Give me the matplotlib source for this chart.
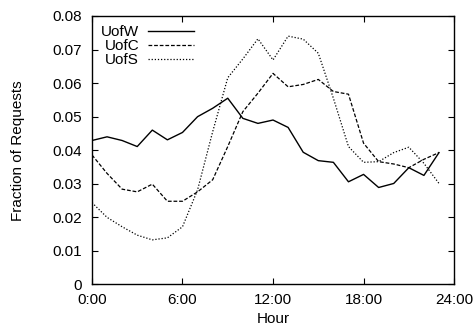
import numpy as np
import matplotlib
matplotlib.use('Agg')
import matplotlib.pyplot as plt

plt.rcParams['font.family'] = ['Liberation Sans', 'DejaVu Sans']
plt.rcParams['font.size'] = 11

# hourly request fractions
hours = list(range(24))
uofw = [0.0429, 0.0440, 0.0429, 0.0411, 0.0460, 0.0431, 0.0453, 0.0500,
        0.0525, 0.0555, 0.0495, 0.0480, 0.0490, 0.0468, 0.0394, 0.0369,
        0.0364, 0.0306, 0.0328, 0.0289, 0.0301, 0.0348, 0.0325, 0.0393]
uofc = [0.0386, 0.0331, 0.0284, 0.0276, 0.0299, 0.0248, 0.0248, 0.0276,
        0.0312, 0.0411, 0.0515, 0.0570, 0.0629, 0.0589, 0.0596, 0.0611,
        0.0575, 0.0567, 0.0421, 0.0366, 0.0359, 0.0348, 0.0373, 0.0393]
uofs = [0.0244, 0.0200, 0.0172, 0.0147, 0.0133, 0.0139, 0.0172, 0.0282,
        0.0455, 0.0616, 0.0672, 0.0732, 0.0669, 0.0740, 0.0731, 0.0689,
        0.0555, 0.0411, 0.0364, 0.0366, 0.0393, 0.0409, 0.0361, 0.0301]

xticks = [0, 6, 12, 18, 24]
xticklabels = ['0:00', '6:00', '12:00', '18:00', '24:00']
yticks = [0, 0.01, 0.02, 0.03, 0.04, 0.05, 0.06, 0.07, 0.08]
yticklabels = ['0', '0.01', '0.02', '0.03', '0.04', '0.05', '0.06', '0.07', '0.08']

fig = plt.figure(figsize=(4.74, 3.31), dpi=100)
ax = fig.add_axes([0.194, 0.1405, 0.764, 0.8112])

ax.plot(hours, uofw, color='black', lw=1.0, linestyle='-', label='UofW')
ax.plot(hours, uofc, color='black', lw=0.9, linestyle=(0, (3, 1.5)), label='UofC')
ax.plot(hours, uofs, color='black', lw=0.9, linestyle=(0, (1, 1.5)), label='UofS')

ax.set_xlim(0, 24)
ax.set_ylim(0, 0.08)
ax.set_xticks(xticks)
ax.set_xticklabels(xticklabels)
ax.set_yticks(yticks)
ax.set_yticklabels(yticklabels)
ax.tick_params(direction='in', top=True, right=True, length=4, width=0.8)
ax.tick_params(axis='y', pad=7)
ax.tick_params(axis='x', pad=6)
for s in ax.spines.values():
    s.set_linewidth(1.0)

ax.set_xlabel('Hour', labelpad=4)
ax.set_ylabel('Fraction of Requests', labelpad=20)

ax.legend(loc='upper left', frameon=False, markerfirst=False, handlelength=3.0,
          handletextpad=0.6, labelspacing=0.0, borderaxespad=0.2,
          bbox_to_anchor=(0.0, 1.0), fontsize=11)

fig.savefig('out.png', dpi=100)
